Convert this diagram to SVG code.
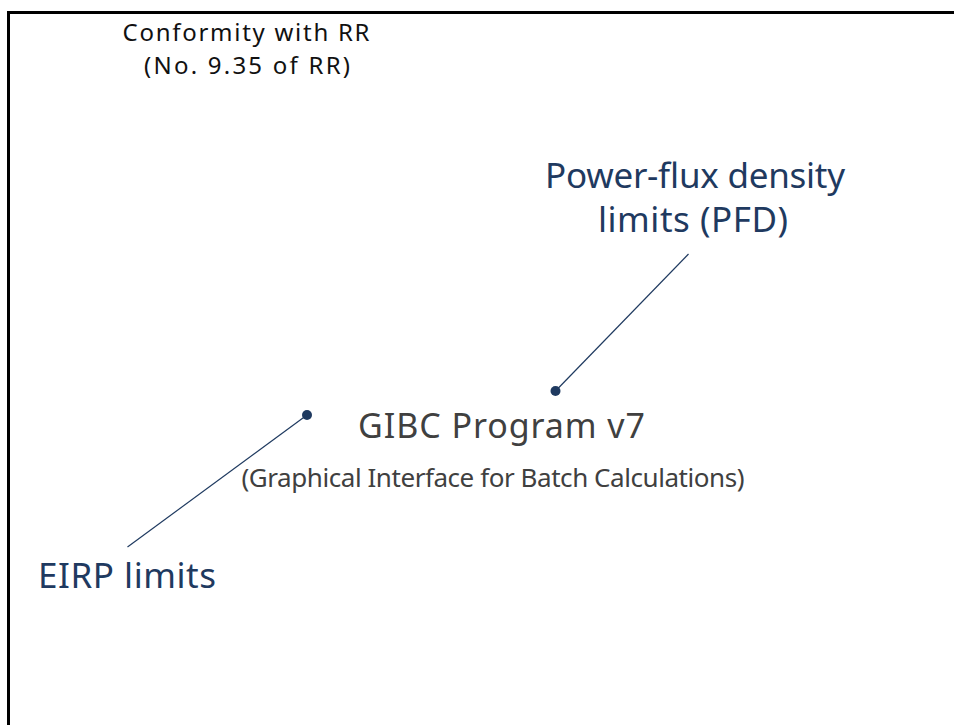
<svg xmlns="http://www.w3.org/2000/svg" width="954" height="725" viewBox="0 0 954 725">
<style>
.t{font-family:"Noto Sans","Open Sans","Liberation Sans",sans-serif;text-anchor:middle}
.blk{fill:#111111;font-size:24px}
.navy{fill:#1f3a60;font-size:35px}
.gray{fill:#404040}
.conn line{stroke:#1f3a60;stroke-width:1.2}
.conn circle{fill:#1f3a60}
</style>
<rect x="8.5" y="12.5" width="970" height="740" fill="none" stroke="#000" stroke-width="3"/>
<g id="conformity">
<text class="t blk" x="246" y="40.5" textLength="247" lengthAdjust="spacing">Conformity with RR</text>
<text class="t blk" x="247" y="73.5" textLength="206" lengthAdjust="spacing">(No. 9.35 of RR)</text>
</g>
<g id="pfd">
<text class="t navy" x="695" y="188" textLength="300" lengthAdjust="spacing">Power-flux density</text>
<text class="t navy" x="693" y="231.5" textLength="190" lengthAdjust="spacing">limits (PFD)</text>
</g>
<g id="gibc">
<text class="t gray" x="501.5" y="438" font-size="34" textLength="287" lengthAdjust="spacing">GIBC Program v7</text>
<text class="t gray" x="493" y="486.5" font-size="26" textLength="503" lengthAdjust="spacing">(Graphical Interface for Batch Calculations)</text>
</g>
<g id="eirp">
<text class="t navy" x="127" y="588" textLength="178" lengthAdjust="spacing">EIRP limits</text>
</g>
<g class="conn" id="connectors">
<line x1="688.5" y1="254" x2="555.5" y2="391"/>
<circle cx="555.5" cy="391" r="5"/>
<line x1="127.5" y1="547" x2="307" y2="415"/>
<circle cx="307" cy="415" r="5"/>
</g>
</svg>
